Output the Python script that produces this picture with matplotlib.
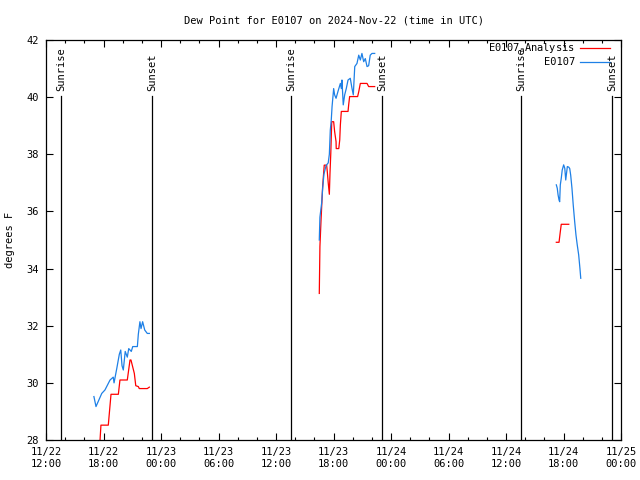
import pandas as pd
import matplotlib
matplotlib.use("Agg")
import matplotlib.pyplot as plt
import matplotlib.dates as mdates
import matplotlib.transforms as mtransforms

# Observed dew point (E0107), one list per daylight segment
obs_time_1 = ["2024-11-22 17:00", "2024-11-22 17:13", "2024-11-22 17:49", "2024-11-22 18:09",
              "2024-11-22 18:41", "2024-11-22 19:01", "2024-11-22 19:06", "2024-11-22 19:23",
              "2024-11-22 19:39", "2024-11-22 19:48", "2024-11-22 19:56", "2024-11-22 20:04",
              "2024-11-22 20:16", "2024-11-22 20:29", "2024-11-22 20:38", "2024-11-22 20:54",
              "2024-11-22 21:03", "2024-11-22 21:32", "2024-11-22 21:38", "2024-11-22 21:48",
              "2024-11-22 21:55", "2024-11-22 22:05", "2024-11-22 22:18", "2024-11-22 22:34",
              "2024-11-22 22:47"]
obs_val_1 = [29.52, 29.17, 29.63, 29.75, 30.1, 30.2, 30.0, 30.5, 31.0, 31.15, 30.6, 30.45,
             31.1, 30.9, 31.2, 31.1, 31.27, 31.27, 31.7, 32.14, 31.9, 32.14, 31.85, 31.73, 31.73]

obs_time_2 = ["2024-11-23 16:31", "2024-11-23 16:35", "2024-11-23 16:46", "2024-11-23 16:52",
              "2024-11-23 17:00", "2024-11-23 17:13", "2024-11-23 17:27", "2024-11-23 17:34",
              "2024-11-23 17:40", "2024-11-23 17:46", "2024-11-23 17:51", "2024-11-23 18:01",
              "2024-11-23 18:07", "2024-11-23 18:16", "2024-11-23 18:28", "2024-11-23 18:43",
              "2024-11-23 18:49", "2024-11-23 18:53", "2024-11-23 19:01", "2024-11-23 19:10",
              "2024-11-23 19:20", "2024-11-23 19:31", "2024-11-23 19:45", "2024-11-23 19:56",
              "2024-11-23 20:04", "2024-11-23 20:13", "2024-11-23 20:27", "2024-11-23 20:38",
              "2024-11-23 20:48", "2024-11-23 20:58", "2024-11-23 21:09", "2024-11-23 21:19",
              "2024-11-23 21:30", "2024-11-23 21:40", "2024-11-23 21:50", "2024-11-23 22:01",
              "2024-11-23 22:18"]
obs_val_2 = [35.0, 35.8, 36.3, 36.8, 37.3, 37.6, 37.7, 38.0, 38.85, 39.2, 39.67, 40.3,
             40.08, 39.96, 40.2, 40.48, 40.3, 40.6, 39.73, 40.08, 40.3, 40.6, 40.66, 40.3,
             40.08, 41.07, 41.18, 41.47, 41.3, 41.53, 41.24, 41.35, 41.07, 41.1, 41.47,
             41.53, 41.53]

obs_time_3 = ["2024-11-24 17:15", "2024-11-24 17:21", "2024-11-24 17:26", "2024-11-24 17:32",
              "2024-11-24 17:36", "2024-11-24 17:40", "2024-11-24 17:46", "2024-11-24 17:52",
              "2024-11-24 18:01", "2024-11-24 18:08", "2024-11-24 18:14", "2024-11-24 18:24",
              "2024-11-24 18:33", "2024-11-24 18:39", "2024-11-24 18:45", "2024-11-24 18:53",
              "2024-11-24 19:01", "2024-11-24 19:10", "2024-11-24 19:18", "2024-11-24 19:26",
              "2024-11-24 19:35", "2024-11-24 19:43", "2024-11-24 19:48"]
obs_val_3 = [36.93, 36.81, 36.58, 36.4, 36.34, 36.93, 37.16, 37.45, 37.63, 37.51, 37.1,
             37.57, 37.55, 37.5, 37.27, 36.81, 36.22, 35.64, 35.18, 34.83, 34.48, 34.0, 33.66]

# Analysis dew point (E0107_Analysis)
ana_time_1 = ["2024-11-22 17:34", "2024-11-22 17:44", "2024-11-22 18:30", "2024-11-22 18:47",
              "2024-11-22 19:33", "2024-11-22 19:43", "2024-11-22 20:29", "2024-11-22 20:46",
              "2024-11-22 20:52", "2024-11-22 21:13", "2024-11-22 21:22", "2024-11-22 21:38",
              "2024-11-22 21:44", "2024-11-22 22:34", "2024-11-22 22:47"]
ana_val_1 = [27.6, 28.52, 28.52, 29.6, 29.6, 30.1, 30.1, 30.8, 30.8, 30.33, 29.9, 29.87,
             29.8, 29.8, 29.85]

ana_time_2 = ["2024-11-23 16:31", "2024-11-23 16:35", "2024-11-23 16:42", "2024-11-23 16:52",
              "2024-11-23 17:02", "2024-11-23 17:17", "2024-11-23 17:21", "2024-11-23 17:27",
              "2024-11-23 17:34", "2024-11-23 17:38", "2024-11-23 17:43", "2024-11-23 17:49",
              "2024-11-23 18:01", "2024-11-23 18:07", "2024-11-23 18:16", "2024-11-23 18:17",
              "2024-11-23 18:33", "2024-11-23 18:39", "2024-11-23 18:43", "2024-11-23 18:49",
              "2024-11-23 19:31", "2024-11-23 19:35", "2024-11-23 19:41", "2024-11-23 20:31",
              "2024-11-23 20:38", "2024-11-23 20:48", "2024-11-23 21:30", "2024-11-23 21:40",
              "2024-11-23 22:18"]
ana_val_2 = [33.13, 34.77, 35.7, 36.87, 37.62, 37.62, 37.4, 37.0, 36.6, 37.33, 38.03, 39.14,
             39.14, 38.8, 38.44, 38.2, 38.2, 38.5, 39.03, 39.5, 39.5, 39.73, 40.02, 40.02,
             40.19, 40.48, 40.48, 40.37, 40.37]

ana_time_3 = ["2024-11-24 17:15", "2024-11-24 17:32", "2024-11-24 17:40", "2024-11-24 17:46",
              "2024-11-24 18:33"]
ana_val_3 = [34.92, 34.92, 35.29, 35.55, 35.55]

sunrise = ["2024-11-22 13:34", "2024-11-23 13:34", "2024-11-24 13:34"]
sunset = ["2024-11-22 23:04", "2024-11-23 23:04", "2024-11-24 23:06"]

x_start = "2024-11-22 12:00"
x_end = "2024-11-25 00:00"
y_min, y_max = 28, 42

RED = "#ff0000"
BLUE = "#1e80e6"
FONT = "DejaVu Sans Mono"
FS = 7.5

plt.rcParams["font.family"] = FONT
plt.rcParams["mathtext.default"] = "regular"

fig = plt.figure(figsize=(6.4, 4.8), dpi=100)
ax = fig.add_axes([46 / 640, 40 / 480, 575 / 640, 400 / 480])

for t, v in [(ana_time_1, ana_val_1), (ana_time_2, ana_val_2), (ana_time_3, ana_val_3)]:
    ax.plot(pd.to_datetime(t), v, color=RED, lw=0.9)
for t, v in [(obs_time_1, obs_val_1), (obs_time_2, obs_val_2), (obs_time_3, obs_val_3)]:
    ax.plot(pd.to_datetime(t), v, color=BLUE, lw=0.9)

# sunrise / sunset markers
trans = mtransforms.blended_transform_factory(ax.transData, ax.transAxes)
for name, times in [("Sunrise", sunrise), ("Sunset", sunset)]:
    for t in pd.to_datetime(times):
        ax.plot([t, t], [0, 0.86], color="black", lw=0.9, transform=trans)
        ax.text(t, 0.872, name, rotation=90, ha="center", va="bottom",
                fontsize=FS, transform=trans)

ax.set_xlim(pd.Timestamp(x_start), pd.Timestamp(x_end))
ax.set_ylim(y_min, y_max)

ax.xaxis.set_major_locator(mdates.HourLocator(byhour=[0, 6, 12, 18]))
ax.xaxis.set_minor_locator(mdates.HourLocator(byhour=range(0, 24, 2)))
ax.xaxis.set_major_formatter(mdates.DateFormatter("%m/%d\n%H:%M"))
ax.set_yticks(range(y_min, y_max + 1, 2))

ax.tick_params(which="both", direction="in", top=True, right=True, labelsize=FS, width=0.8)
ax.tick_params(which="major", length=5, pad=5)
ax.tick_params(which="minor", length=2.5)
for s in ax.spines.values():
    s.set_linewidth(0.9)

ax.set_title("Dew Point for E0107 on 2024-Nov-22 (time in UTC)", fontsize=FS, pad=12)
ax.set_ylabel("degrees F", fontsize=FS, labelpad=8)

# gnuplot-style key: right-aligned text, sample line to the right
key = [("E0107$_a$Analysis", RED), ("E0107", BLUE)]
for i, (lab, col) in enumerate(key):
    y = 0.98 - i * 0.034
    ax.text(0.92, y, lab, ha="right", va="center", fontsize=FS, transform=ax.transAxes)
    ax.plot([0.929, 0.981], [y, y], color=col, lw=0.9, transform=ax.transAxes)

fig.savefig("out.png", dpi=100)
